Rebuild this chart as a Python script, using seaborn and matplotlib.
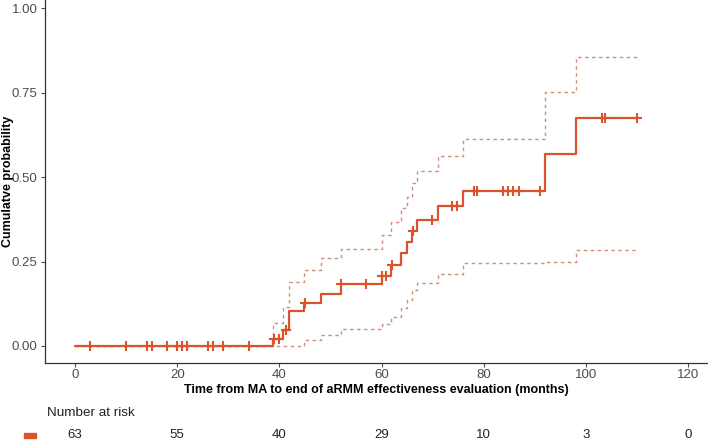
import matplotlib
matplotlib.use("Agg")
import matplotlib.pyplot as plt
from matplotlib.patches import Rectangle
import seaborn as sns
import numpy as np
import pandas as pd

# step curve (event times and cumulative probability after each step)
event_times = [0, 38.8, 40.7, 41.9, 44.9, 48.1, 52.0, 60.0, 61.8, 63.8, 65.0,
               66.0, 66.9, 71.0, 76.0, 92.0, 98.0]
cum_prob = [0, 0.022, 0.046, 0.103, 0.127, 0.155, 0.182, 0.206, 0.239, 0.274,
            0.308, 0.340, 0.374, 0.415, 0.458, 0.568, 0.676]
upper_ci = [0, 0.068, 0.115, 0.190, 0.224, 0.259, 0.288, 0.328, 0.367, 0.407,
            0.442, 0.481, 0.518, 0.562, 0.612, 0.752, 0.854]
lower_ci = [0, 0.0, 0.0, 0.0, 0.017, 0.033, 0.049, 0.066, 0.086, 0.111,
            0.135, 0.165, 0.187, 0.214, 0.246, 0.249, 0.285]
end_time = 110

censor_times = [3, 10, 14, 15, 18, 20, 21, 22, 26, 27, 29, 34, 39, 40, 41.2,
                45, 52.1, 57, 60.1, 60.8, 62, 66.1, 69.8, 73.7, 74.7, 78.1,
                78.7, 83.8, 84.8, 85.8, 86.9, 91, 103.1, 103.7, 110]

risk_times = [0, 20, 40, 60, 80, 100, 120]
risk_counts = [63, 55, 40, 29, 10, 3, 0]

color = "#DA532C"
ci_color = "#CF8F7B"

sns.set_theme(style="ticks")
plt.rcParams['font.family'] = ['Liberation Sans', 'DejaVu Sans']

curve = pd.DataFrame({
    'time': event_times + [end_time],
    'prob': cum_prob + [cum_prob[-1]],
    'upper': upper_ci + [upper_ci[-1]],
    'lower': lower_ci + [lower_ci[-1]],
})
idx = np.searchsorted(event_times, censor_times, side='right') - 1
censors = pd.DataFrame({'time': censor_times,
                        'prob': np.array(cum_prob)[idx]})

fig = plt.figure(figsize=(7.08, 4.47), dpi=100)
W, H = 708, 447
left_px, right_px, top_px, bottom_px = 45, 708, 0, 363
ax = fig.add_axes([left_px / W, 1 - bottom_px / H,
                   (right_px - left_px) / W, (bottom_px - top_px) / H])

for col in ['upper', 'lower']:
    sns.lineplot(data=curve, x='time', y=col, ax=ax, color=ci_color,
                 linewidth=1.0, linestyle=(0, (2.5, 2.5)), drawstyle='steps-post',
                 estimator=None, sort=False)
sns.lineplot(data=curve, x='time', y='prob', ax=ax, color=color,
             linewidth=1.6, drawstyle='steps-post', estimator=None, sort=False)
sns.scatterplot(data=censors, x='time', y='prob', ax=ax, marker='+',
                color=color, s=50, linewidth=1.5, zorder=5)

ax.set_xlim(-5.87, 123.87)
ax.set_ylim(-0.0503, 1.0237)
ax.set_xticks(range(0, 121, 20))
ax.set_yticks([0, 0.25, 0.5, 0.75, 1.0])
ax.set_yticklabels(["0.00", "0.25", "0.50", "0.75", "1.00"])
ax.tick_params(labelsize=9.5, colors='#4D4D4D', length=3, width=0.8, pad=2.5)
ax.tick_params(axis='x', pad=1.5)
for s in ['left', 'bottom']:
    ax.spines[s].set_color('#333333')
    ax.spines[s].set_linewidth(0.9)
sns.despine(ax=ax)
ax.set_xlabel("")
ax.set_ylabel("")

fig.text((left_px + right_px) / 2 / W, 1 - 390 / H,
         "Time from MA to end of aRMM effectiveness evaluation (months)",
         ha='center', va='center', fontsize=9, fontweight='bold', color='black')
fig.text(8 / W, 1 - 181 / H, "Cumulatve probability", rotation=90,
         ha='center', va='center', fontsize=9, fontweight='bold', color='black')

# number at risk table, sharing the time scale
tab = fig.add_axes([left_px / W, 0, (right_px - left_px) / W, 0.06])
tab.set_xlim(ax.get_xlim())
tab.set_ylim(0, 1)
tab.axis('off')
for t, n in zip(risk_times, risk_counts):
    tab.text(t, 0.45, str(n), ha='center', va='center', fontsize=9.5,
             color='#222222')
fig.text(47 / W, 1 - 413 / H, "Number at risk", ha='left', va='center',
         fontsize=9.7, color='#222222')
fig.patches.append(Rectangle((24 / W, 1 - 438 / H), 12 / W, 5 / H,
                             transform=fig.transFigure, color=color))

fig.savefig("out.png", dpi=100)
